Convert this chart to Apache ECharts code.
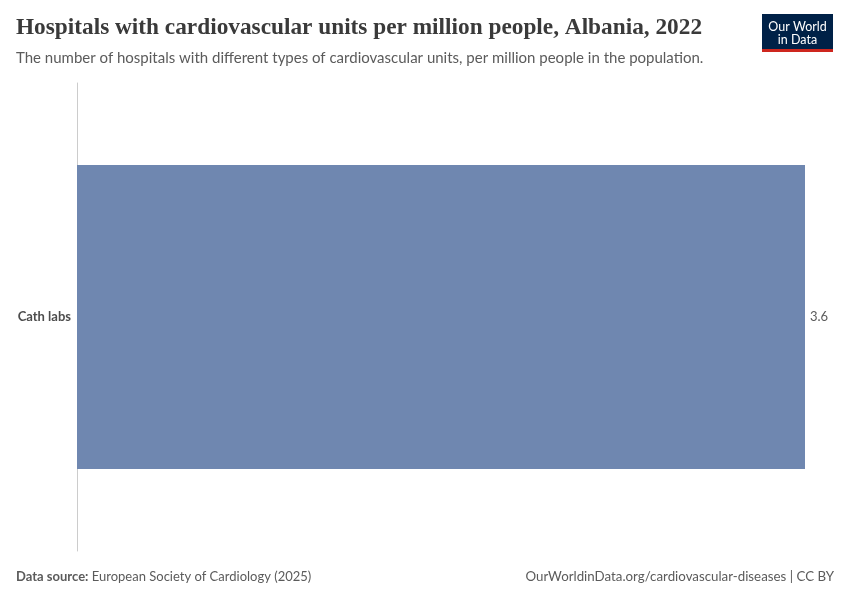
<!DOCTYPE html>
<html><head><meta charset="utf-8">
<script src="https://cdn.jsdelivr.net/npm/echarts@6/dist/echarts.min.js"></script>
<style>html,body{margin:0;padding:0;background:#fff}#c{width:850px;height:600px}</style>
</head><body><div id="c"></div>
<script>
const categories = ["Cath labs"];
const values = [3.6];
const valueLabels = ["3.6"];

const chart = echarts.init(document.getElementById('c'), null, {renderer:'canvas'});
chart.setOption({
  animation:false,
  backgroundColor:'#fff',
  grid:{left:77,right:45,top:83,bottom:49,containLabel:false},
  xAxis:{type:'value',min:0,max:3.6,show:false,splitLine:{show:false}},
  yAxis:{type:'category',data:categories,inverse:true,
    axisLine:{show:true,lineStyle:{color:'#cccccc',width:1}},
    axisTick:{show:false},
    axisLabel:{fontFamily:'Lato',fontSize:13,fontWeight:'bold',color:'#4d4d4d',margin:6}},
  series:[{type:'bar',data:values,barWidth:304,
    itemStyle:{color:'#6f87b0'},
    label:{show:true,position:'right',distance:5,fontFamily:'Lato',fontSize:13,color:'#5b5b5b',
      formatter:p=>valueLabels[p.dataIndex]}}],
  graphic:[
    {type:'text',left:16,top:16,style:{text:'Hospitals with cardiovascular units per million people, Albania, 2022',
      fontFamily:'"Liberation Serif", "DejaVu Serif", serif',fontSize:23.3,fontWeight:'bold',fill:'#3a3a3a'}},
    {type:'text',left:16,top:51,style:{text:'The number of hospitals with different types of cardiovascular units, per million people in the population.',
      fontFamily:'Lato',fontSize:15,fill:'#5b5b5b'}},
    {type:'group',left:762,top:14,children:[
      {type:'rect',shape:{x:0,y:0,width:71,height:38},style:{fill:'#002147'}},
      {type:'rect',shape:{x:0,y:35,width:71,height:3},style:{fill:'#ce261e'}},
      {type:'text',style:{x:35.5,y:6,text:'Our World',align:'center',fontFamily:'Lato',fontSize:12.5,fill:'#fff'}},
      {type:'text',style:{x:35.5,y:19,text:'in Data',align:'center',fontFamily:'Lato',fontSize:12.5,fill:'#fff'}}
    ]},
    {type:'text',left:16,top:570,style:{rich:{b:{fontFamily:'Lato',fontSize:13,fontWeight:'bold',fill:'#5b5b5b'},n:{fontFamily:'Lato',fontSize:13,fill:'#5b5b5b'}},
      text:'{b|Data source:} {n|European Society of Cardiology (2025)}'}},
    {type:'text',right:16,top:570,style:{text:'OurWorldinData.org/cardiovascular-diseases | CC BY',fontFamily:'Lato',fontSize:13.3,fill:'#5b5b5b'}}
  ]
});
</script></body></html>
